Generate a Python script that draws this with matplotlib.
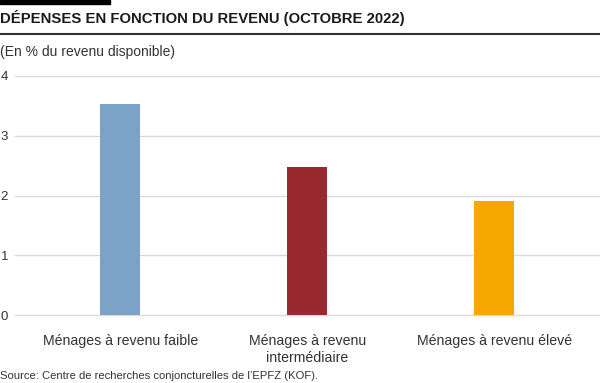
import matplotlib.pyplot as plt
import matplotlib.patches as patches

# données
categories = ['Ménages à revenu faible', 'Ménages à revenu\nintermédiaire', 'Ménages à revenu élevé']
valeurs = [3.53, 2.48, 1.91]
couleurs = ['#7ba3c7', '#9a2830', '#f5a800']
yticks = [0, 1, 2, 3, 4]

plt.rcParams['font.family'] = ['Liberation Sans', 'DejaVu Sans']

fig = plt.figure(figsize=(6, 3.83), dpi=100)
W, H = 600, 383

# barre noire en haut + titre + filet
fig.patches.append(patches.Rectangle((0, 1 - 4 / H), 110 / W, 4 / H, transform=fig.transFigure,
                                     color='black', zorder=5))
fig.text(0, 1 - 18 / H, 'DÉPENSES EN FONCTION DU REVENU (OCTOBRE 2022)', fontsize=10.7,
         fontweight='bold', va='center', ha='left', color='#1a1a1a')
fig.add_artist(plt.Line2D([0, 1], [1 - 33.5 / H, 1 - 33.5 / H], transform=fig.transFigure,
                          color='#333333', lw=1.5))
fig.text(0, 1 - 52 / H, '(En % du revenu disponible)', fontsize=10, va='center', ha='left',
         color='#333333')

ax = fig.add_axes([15 / W, 1 - 315 / H, 585 / W, 239 / H])
x = range(len(categories))
ax.bar(x, valeurs, width=0.214, color=couleurs, zorder=3)
ax.set_ylim(0, 4)
ax.set_xlim(-0.563, 2.565)
ax.set_yticks(yticks)
for t in yticks:
    ax.axhline(t, color='#d9d9d9', lw=1, zorder=1, clip_on=False)
for s in ax.spines.values():
    s.set_visible(False)
ax.tick_params(axis='y', length=0, pad=5, labelsize=9.5, labelcolor='#333333')
ax.tick_params(axis='x', length=0, pad=14, labelsize=10.2, labelcolor='#333333')
ax.set_xticks(list(x))
ax.set_xticklabels(categories, va='top', linespacing=1.25)

fig.text(0, 1 - 376 / H, "Source: Centre de recherches conjoncturelles de l’EPFZ (KOF).",
         fontsize=8.15, va='center', ha='left', color='#333333')

fig.savefig('out.png', dpi=100)
